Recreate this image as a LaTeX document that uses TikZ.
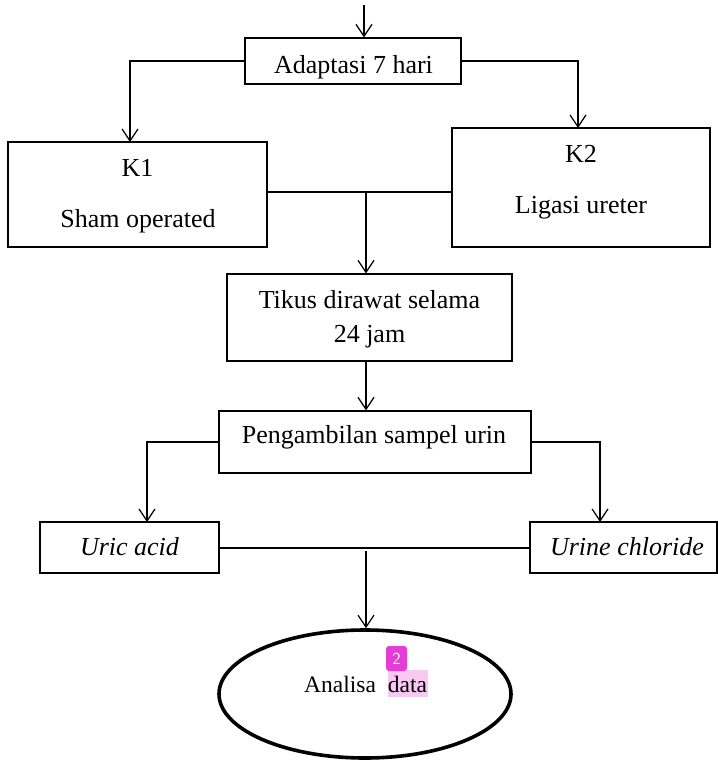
\documentclass[tikz,border=0pt]{standalone}
\usepackage{fontspec}
\setmainfont{Liberation Serif}
\usetikzlibrary{arrows.meta,shapes.geometric}
\definecolor{hlpink}{RGB}{249,200,243}
\definecolor{badge}{RGB}{228,60,212}
\begin{document}
\begin{tikzpicture}[x=1pt,y=-1pt,
  boxnode/.style={draw,line width=1.2pt,rectangle,inner sep=0pt},
  txt/.style={anchor=base,inner sep=0pt,font=\fontsize{26}{31}\selectfont},
  conn/.style={line width=1.2pt},
  arr/.style={line width=1.2pt,-{Straight Barb[length=12pt,width=16pt,line width=1.2pt]}}]
\useasboundingbox (0,0) rectangle (718,761);
% boxes
\node[boxnode,minimum width=216pt,minimum height=46pt] (adapt) at (353,61) {};
\node[boxnode,minimum width=259pt,minimum height=105pt] (k1) at (137.5,194.5) {};
\node[boxnode,minimum width=258pt,minimum height=119pt] (k2) at (581,187.5) {};
\node[boxnode,minimum width=285pt,minimum height=87pt] (tikus) at (369.5,317.5) {};
\node[boxnode,minimum width=312pt,minimum height=62pt] (peng) at (375,442) {};
\node[boxnode,minimum width=179pt,minimum height=51pt] (uric) at (129.5,547.5) {};
\node[boxnode,minimum width=187pt,minimum height=51pt] (urine) at (623.5,547.5) {};
\node[draw,ellipse,line width=3.6pt,minimum width=292pt,minimum height=128pt,inner sep=0pt] (ell) at (365,694) {};
% texts
\node[txt] (tadapt) at (353.5,73) {Adaptasi 7 hari};
\node[txt] (tk1) at (137.5,176) {K1};
\node[txt] (tsham) at (138,227) {Sham operated};
\node[txt] (tk2) at (581,162) {K2};
\node[txt] (tlig) at (581,213) {Ligasi ureter};
\node[txt] (ttik1) at (369.5,308) {Tikus dirawat selama};
\node[txt] (ttik2) at (369.5,342) {24 jam};
\node[txt] (tpeng) at (374,443) {Pengambilan sampel urin};
\node[txt] (turic) at (129.5,555) {\itshape Uric acid};
\node[txt] (turine) at (627,555) {\itshape Urine chloride};
\fill[hlpink] (388,670) rectangle (428,697);
\node[txt,anchor=base west,font=\fontsize{23.5}{28}\selectfont] (tanal) at (304,692) {Analisa\hspace{12pt}data};
\fill[badge,rounded corners=3pt] (386,646) rectangle (407,671);
\node[inner sep=0pt,text=white,font=\sffamily\fontsize{17}{17}\selectfont] (tbadge) at (396.5,658.5) {2};
% connector points
\coordinate (top) at (364,5);
\coordinate (k1in) at (130,142);
\coordinate (k2in) at (578,128);
\coordinate (j1) at (366,192);
\coordinate (uin) at (147,522);
\coordinate (rin) at (600,522);
\coordinate (j2) at (366,551);
\coordinate (hz) at (366,548);
% connectors
\draw[arr] (top) -- (top |- adapt.north);
\draw[arr] (adapt.west) -| (k1in);
\draw[arr] (adapt.east) -| (k2in);
\draw[conn] (j1 -| k1.east) -- (j1 -| k2.west);
\draw[arr] (j1) -- (j1 |- tikus.north);
\draw[arr] (j1 |- tikus.south) -- (j1 |- peng.north);
\draw[arr] (peng.west) -| (uin);
\draw[arr] (peng.east) -| (rin);
\draw[conn] (hz -| uric.east) -- (hz -| urine.west);
\draw[arr] (j2) -- (j2 |- ell.north);
\end{tikzpicture}
\end{document}
